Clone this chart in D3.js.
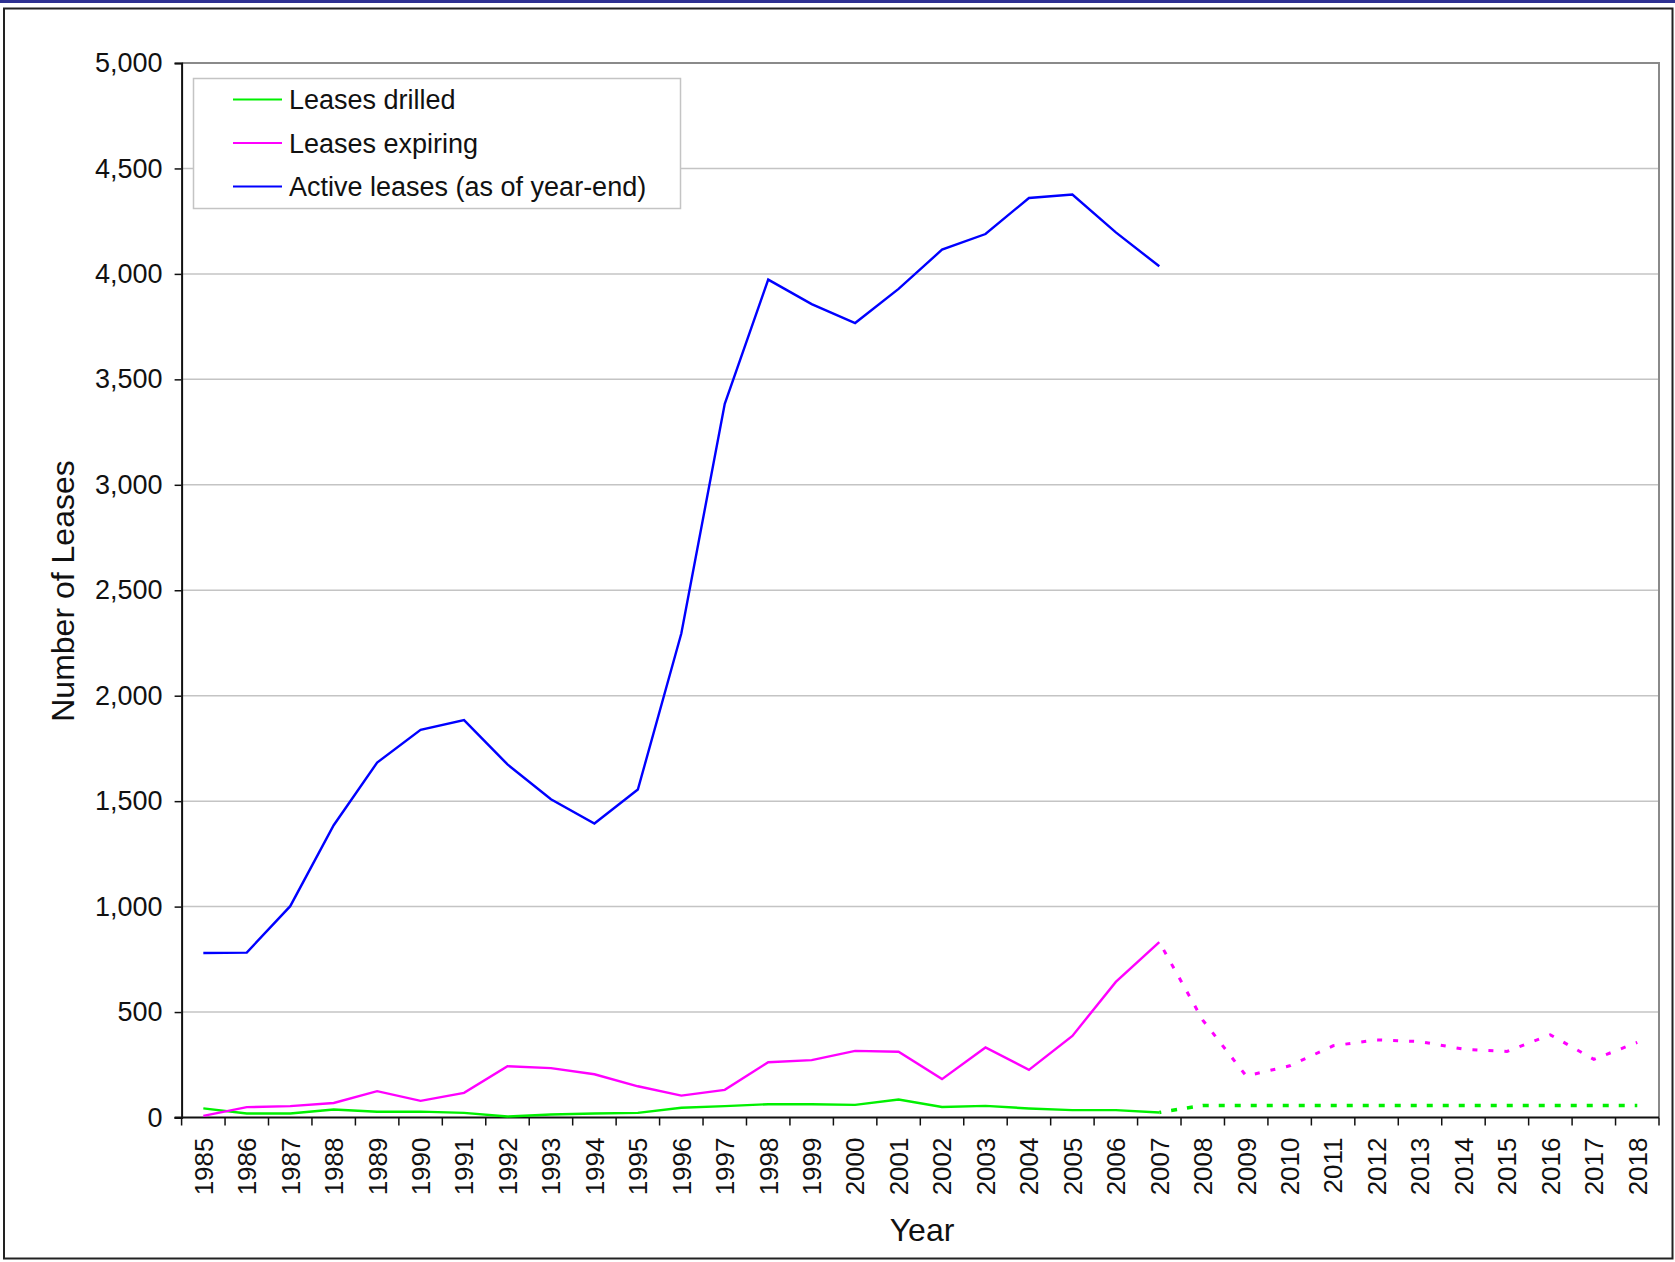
<!DOCTYPE html>
<html lang="en">
  <head>
    <meta charset="UTF-8" />
    <title>Leases chart</title>
    <script src="https://cdnjs.cloudflare.com/ajax/libs/d3/7.8.5/d3.min.js"></script>
    <style>
      body { margin: 0; background: #fff; }
      text { font-family: "Liberation Sans", Arial, sans-serif; fill: #111; }
    </style>
  </head>
  <body>
    <svg id="chart" width="1675" height="1262"></svg>

    <script type="text/javascript">
      var years = d3.range(1985, 2019);
      var yTicks = d3.range(0, 5001, 500);

      // 1985-2007
      var activeLeases = [780, 782, 1002, 1386, 1683, 1838, 1884, 1674, 1509, 1394, 1555,
        2295, 3384, 3973, 3857, 3767, 3929, 4115, 4189, 4360, 4376, 4197, 4036];
      var leasesExpiring = [8, 49, 54, 69, 125, 79, 117, 243, 234, 205, 148,
        104, 131, 262, 272, 316, 312, 182, 332, 226, 387, 643, 832];
      var leasesDrilled = [43, 19, 19, 38, 27, 28, 22, 5, 14, 19, 22,
        46, 54, 63, 63, 60, 85, 50, 55, 43, 35, 35, 24];
      // 2007-2018 (projection, dotted)
      var expiringProjected = [832, 462, 197, 245, 340, 368, 360, 324, 313, 392, 276, 356];
      var drilledProjected = [24, 57, 57, 57, 57, 57, 57, 57, 57, 57, 57, 57];

      var legendItems = [
        { label: "Leases drilled", color: "#00f000" },
        { label: "Leases expiring", color: "#ff00ff" },
        { label: "Active leases (as of year-end)", color: "#0000ff" }
      ];

      var svg = d3.select("#chart");
      var plotLeft = 181.6, plotRight = 1659, plotTop = 63, plotBottom = 1117.5;

      /* page frame */
      svg.append("rect").attr("x", 0).attr("y", 0).attr("width", 1675).attr("height", 3)
        .attr("fill", "#2e3192");
      svg.append("rect").attr("x", 4).attr("y", 8.5).attr("width", 1668.5).attr("height", 1250)
        .attr("fill", "none").attr("stroke", "#222").attr("stroke-width", 2);

      var x = d3.scaleBand().domain(years).range([plotLeft, plotRight]);
      var y = d3.scaleLinear().domain([0, 5000]).range([plotBottom, plotTop]);
      var cx = function (yr) { return x(yr) + x.bandwidth() / 2; };

      /* gridlines */
      svg.append("g").selectAll("line")
        .data(yTicks.filter(function (d) { return d > 0 && d < 5000; }))
        .enter().append("line")
        .attr("x1", plotLeft).attr("x2", plotRight)
        .attr("y1", function (d) { return y(d); }).attr("y2", function (d) { return y(d); })
        .attr("stroke", "#c4c4c4").attr("stroke-width", 1.5);

      /* plot border top / right */
      svg.append("path")
        .attr("d", "M" + plotLeft + "," + plotTop + "H" + plotRight + "V" + plotBottom)
        .attr("fill", "none").attr("stroke", "#8a8a8a").attr("stroke-width", 2);

      /* y axis */
      var yAxis = svg.append("g").attr("transform", "translate(" + plotLeft + ",0)")
        .call(d3.axisLeft(y).tickValues(yTicks).tickSize(7).tickPadding(12)
          .tickFormat(d3.format(",")));
      yAxis.select(".domain").attr("stroke", "#111").attr("stroke-width", 2);
      yAxis.selectAll(".tick line").attr("stroke", "#111").attr("stroke-width", 1.5);
      yAxis.selectAll("text").style("font-size", "27px").attr("fill", "#111");

      /* x axis: ticks between categories */
      var xAxis = svg.append("g").attr("transform", "translate(0," + plotBottom + ")")
        .call(d3.axisBottom(x).tickSize(0).tickPadding(0));
      xAxis.select(".domain").remove();
      xAxis.selectAll("text")
        .style("font-size", "26px").attr("fill", "#111")
        .attr("text-anchor", "end")
        .attr("transform", "translate(0,20) rotate(-90)")
        .attr("x", 0).attr("y", 0).attr("dy", "0.36em");

      var bounds = years.map(function (yr) { return x(yr); }).concat([plotRight]);
      svg.append("g").selectAll("line").data(bounds).enter().append("line")
        .attr("x1", function (d) { return d; }).attr("x2", function (d) { return d; })
        .attr("y1", plotBottom).attr("y2", plotBottom + 8)
        .attr("stroke", "#111").attr("stroke-width", 1.5);
      svg.append("line").attr("x1", plotLeft - 7).attr("x2", plotRight)
        .attr("y1", plotBottom).attr("y2", plotBottom)
        .attr("stroke", "#111").attr("stroke-width", 2);

      /* axis titles */
      svg.append("text")
        .attr("transform", "translate(74," + 591 + ") rotate(-90)")
        .attr("text-anchor", "middle").style("font-size", "32px")
        .text("Number of Leases");
      svg.append("text")
        .attr("x", 922).attr("y", 1241)
        .attr("text-anchor", "middle").style("font-size", "32px")
        .text("Year");

      /* lines */
      var line = d3.line()
        .x(function (d) { return cx(d.year); })
        .y(function (d) { return y(d.value); });
      function pairs(values, startYear) {
        return values.map(function (v, i) { return { year: startYear + i, value: v }; });
      }

      svg.append("path").datum(pairs(drilledProjected, 2007))
        .attr("d", line).attr("fill", "none")
        .attr("stroke", legendItems[0].color).attr("stroke-width", 3.5)
        .attr("stroke-dasharray", "6,10").attr("stroke-dashoffset", -12);
      svg.append("path").datum(pairs(expiringProjected, 2007))
        .attr("d", line).attr("fill", "none")
        .attr("stroke", legendItems[1].color).attr("stroke-width", 3)
        .attr("stroke-dasharray", "5,11").attr("stroke-dashoffset", -9);

      svg.append("path").datum(pairs(leasesDrilled, 1985))
        .attr("d", line).attr("fill", "none")
        .attr("stroke", legendItems[0].color).attr("stroke-width", 2.4);
      svg.append("path").datum(pairs(leasesExpiring, 1985))
        .attr("d", line).attr("fill", "none")
        .attr("stroke", legendItems[1].color).attr("stroke-width", 2.4);
      svg.append("path").datum(pairs(activeLeases, 1985))
        .attr("d", line).attr("fill", "none")
        .attr("stroke", legendItems[2].color).attr("stroke-width", 2.4);

      /* legend */
      var legend = svg.append("g");
      legend.append("rect")
        .attr("x", 193.5).attr("y", 78.5).attr("width", 487).attr("height", 130)
        .attr("fill", "#fff").attr("stroke", "#c4c4c4").attr("stroke-width", 1.5);
      var rows = legend.selectAll("g.item").data(legendItems).enter().append("g")
        .attr("class", "item")
        .attr("transform", function (d, i) { return "translate(0," + (99.5 + i * 43.5) + ")"; });
      rows.append("line").attr("x1", 233).attr("x2", 282).attr("y1", 0).attr("y2", 0)
        .attr("stroke", function (d) { return d.color; }).attr("stroke-width", 2);
      rows.append("text").attr("x", 289).attr("y", 0).attr("dy", "0.36em")
        .style("font-size", "27px")
        .text(function (d) { return d.label; });
    </script>
  </body>
</html>
